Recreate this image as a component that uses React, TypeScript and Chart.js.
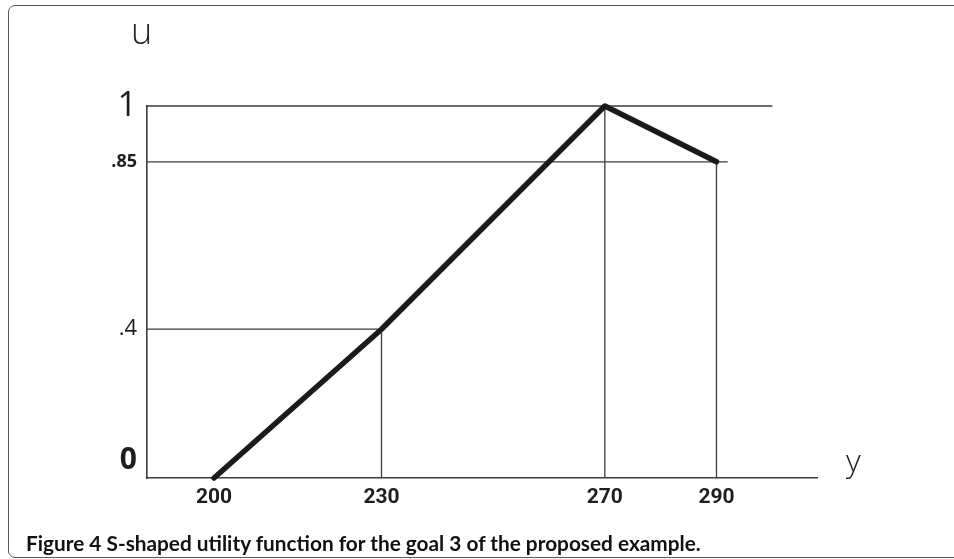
import React, { useEffect, useRef } from 'react';
import { Chart, registerables } from 'chart.js';

Chart.register(...registerables);

// goal values (horizontal axis, labelled "y") and their utilities (vertical axis, labelled "u")
const goalValues = [200, 230, 270, 290];
const utilities = [0, 0.4, 1, 0.85];
// tick values / labels
const xTickValues = [200, 230, 270, 290];
const uTickValues = [0, 0.4, 0.85, 1];
const uTickLabels = ['0', '.4', '.85', '1'];
// how far each horizontal guide reaches to the right (goal value), aligned with the points
const hGuideReach = [null, 230, 300, 292];

const caption = 'Figure 4 S-shaped utility function for the goal 3 of the proposed example.';

const X_MIN = 188;
const X_MAX = 308;

function uTickFont(v: number) {
  if (v === 1) return { family: '"Open Sans", sans-serif', size: 34, weight: 'normal' as const };
  if (v === 0) return { family: '"Open Sans", sans-serif', size: 30, weight: 'bold' as const };
  if (v === 0.85) return { family: '"Open Sans", sans-serif', size: 18, weight: 'bold' as const };
  return { family: '"Open Sans", sans-serif', size: 22, weight: 'normal' as const };
}

export default function App() {
  const ref = useRef<HTMLCanvasElement | null>(null);

  useEffect(() => {
    if (!ref.current) return;
    const points = goalValues.map((g, i) => ({ x: g, y: utilities[i] }));
    const guideStyle = {
      borderColor: '#3c3c3c',
      borderWidth: 1.3,
      pointRadius: 0,
      showLine: true,
      clip: false as const,
    };
    const hGuides = points
      .map((p, i) => ({ p, reach: hGuideReach[i] }))
      .filter((d) => d.reach !== null && d.p.y > 0)
      .map((d) => ({
        ...guideStyle,
        data: [
          { x: X_MIN, y: d.p.y },
          { x: d.reach as number, y: d.p.y },
        ],
      }));
    const vGuides = points
      .filter((p) => p.y > 0)
      .map((p) => ({
        ...guideStyle,
        data: [
          { x: p.x, y: 0 },
          { x: p.x, y: p.y },
        ],
      }));

    const chart = new Chart(ref.current, {
      type: 'line',
      data: {
        datasets: [
          {
            data: points,
            borderColor: '#1b1b1b',
            borderWidth: 5.5,
            pointRadius: 0,
            tension: 0,
            borderJoinStyle: 'round',
            borderCapStyle: 'round',
            clip: false as const,
          } as any,
          ...hGuides,
          ...vGuides,
        ],
      },
      options: {
        animation: false,
        responsive: false,
        events: [],
        layout: { padding: { left: 0, top: 106, right: 137, bottom: 41 } },
        plugins: { legend: { display: false }, tooltip: { enabled: false }, title: { display: false } },
        scales: {
          x: {
            type: 'linear',
            min: X_MIN,
            max: X_MAX,
            grid: { display: false, drawTicks: false },
            border: { display: true, color: '#3c3c3c', width: 1.6 },
            afterBuildTicks: (scale: any) => {
              scale.ticks = xTickValues.map((v) => ({ value: v }));
            },
            afterFit: (scale: any) => {
              scale.height = 40;
            },
            ticks: {
              padding: 7,
              color: '#1e1e1e',
              autoSkip: false,
              maxRotation: 0,
              font: { family: 'Roboto, sans-serif', size: 21, weight: 'bold' },
              callback: (v: any) => String(v),
            },
          },
          y: {
            type: 'linear',
            min: 0,
            max: 1,
            grid: { display: false, drawTicks: false },
            border: { display: true, color: '#3c3c3c', width: 1.6 },
            afterBuildTicks: (scale: any) => {
              scale.ticks = uTickValues.map((v) => ({ value: v }));
            },
            afterFit: (scale: any) => {
              scale.width = 147;
            },
            ticks: {
              padding: 10,
              color: '#1e1e1e',
              autoSkip: false,
              font: (ctx: any) => uTickFont(ctx.tick ? ctx.tick.value : 0),
              callback: (v: any) => {
                const i = uTickValues.indexOf(Number(v));
                if (i < 0) return '';
                // the zero label sits above the axis line in the original
                return Number(v) === 0 ? [uTickLabels[i], ''] : uTickLabels[i];
              },
            },
          },
        },
      },
    });
    return () => chart.destroy();
  }, []);

  return (
    <div style={{ position: 'fixed', left: 0, top: 0, width: 954, height: 559, overflow: 'hidden', background: '#fff' }}>
      <div
        style={{
          position: 'absolute',
          left: 8,
          top: 5,
          width: 1000,
          height: 551,
          border: '1.6px solid #5a5a5a',
          borderRadius: 7,
        }}
      />
      <canvas ref={ref} width={954} height={559} style={{ position: 'absolute', left: 0, top: 0, width: 954, height: 559 }} />
      <div
        style={{
          position: 'absolute',
          left: 131,
          top: 13,
          fontFamily: '"Open Sans", sans-serif',
          fontWeight: 300,
          fontSize: 36,
          lineHeight: 1,
          color: '#222',
        }}
      >
        u
      </div>
      <div
        style={{
          position: 'absolute',
          left: 846,
          top: 444,
          fontFamily: '"Open Sans", sans-serif',
          fontWeight: 300,
          fontSize: 32,
          lineHeight: 1,
          color: '#222',
        }}
      >
        y
      </div>
      <div
        style={{
          position: 'absolute',
          left: 26,
          top: 533,
          fontFamily: 'Lato, "Open Sans", sans-serif',
          fontWeight: 700,
          fontSize: 20.8,
          lineHeight: 1,
          color: '#111',
          whiteSpace: 'nowrap',
        }}
      >
        {caption}
      </div>
    </div>
  );
}
